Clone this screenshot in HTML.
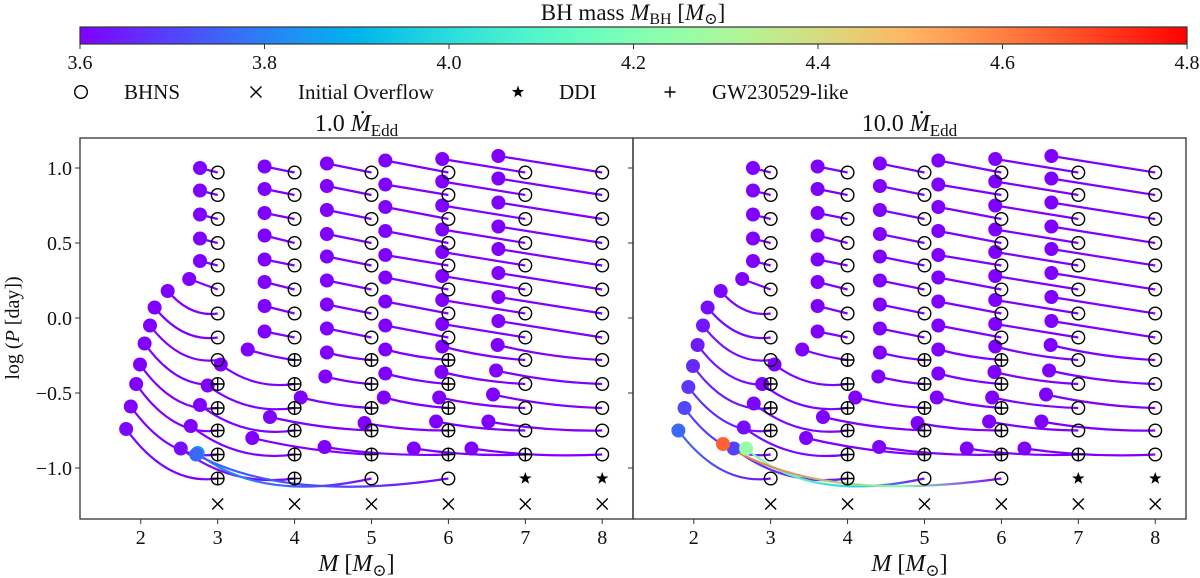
<!DOCTYPE html>
<html><head><meta charset="utf-8"><style>
html,body{margin:0;padding:0;background:#fff}
svg{display:block}
svg text{font-family:"Liberation Serif","DejaVu Serif",serif}
</style></head><body>
<svg id="fig" width="1200" height="578" viewBox="0 0 1200 578" xmlns="http://www.w3.org/2000/svg" font-family="Liberation Serif, DejaVu Serif, serif">
<defs id="defs"></defs>
<g id="cbar"></g>
<g id="legend"></g>
<g id="panelL"></g>
<g id="panelR"></g>
</svg>
<script>
// ---- data ----
const cols = [3,4,5,6,7,8];
const rowLogP = [0.97,0.82,0.66,0.50,0.35,0.19,0.03,-0.13,-0.28,-0.44,-0.60,-0.75,-0.91,-1.07];
const overflowLogP = -1.24;
const cbarTicks = [3.6,3.8,4.0,4.2,4.4,4.6,4.8];
const xTicks = [2,3,4,5,6,7,8];
const yTicks = [1.0,0.5,0.0,-0.5,-1.0];
const yTickLabels = ["1.0","0.5","0.0","\u22120.5","\u22121.0"];

// left panel (1.0 Mdot_Edd): end points per column (rows 0..13)
const endM_L = [
 [2.77,2.77,2.77,2.77,2.77,2.63,2.35,2.18,2.12,2.05,1.99,1.94,1.87,1.81],
 [3.61,3.61,3.61,3.61,3.61,3.61,3.61,3.61,3.39,3.04,2.87,2.77,2.65,2.52],
 [4.42,4.42,4.42,4.42,4.42,4.42,4.42,4.42,4.42,4.40,4.08,3.68,3.45,2.74],
 [5.18,5.18,5.18,5.18,5.18,5.18,5.18,5.18,5.18,5.18,5.16,4.91,4.39,2.72],
 [5.92,5.92,5.92,5.92,5.92,5.92,5.92,5.92,5.92,5.91,5.88,5.84,5.55,null],
 [6.65,6.65,6.65,6.65,6.65,6.65,6.65,6.65,6.64,6.62,6.58,6.52,6.30,null]];
const endP_L = [
 [1.00,0.85,0.69,0.53,0.38,0.26,0.18,0.07,-0.05,-0.17,-0.31,-0.44,-0.59,-0.74],
 [1.01,0.86,0.70,0.55,0.39,0.24,0.08,-0.09,-0.21,-0.31,-0.45,-0.58,-0.72,-0.87],
 [1.03,0.88,0.72,0.56,0.41,0.25,0.09,-0.07,-0.23,-0.39,-0.53,-0.66,-0.80,-0.90],
 [1.05,0.89,0.74,0.58,0.42,0.27,0.11,-0.05,-0.21,-0.37,-0.53,-0.70,-0.86,-0.91],
 [1.06,0.91,0.75,0.59,0.44,0.28,0.12,-0.04,-0.19,-0.36,-0.53,-0.69,-0.87,null],
 [1.08,0.93,0.77,0.61,0.46,0.30,0.14,-0.02,-0.18,-0.35,-0.51,-0.69,-0.87,null]];
const mass_L = [
 [3.6,3.6,3.6,3.6,3.6,3.6,3.6,3.6,3.6,3.6,3.6,3.6,3.6,3.61],
 [3.6,3.6,3.6,3.6,3.6,3.6,3.6,3.6,3.6,3.6,3.6,3.6,3.6,3.62],
 [3.6,3.6,3.6,3.6,3.6,3.6,3.6,3.6,3.6,3.6,3.6,3.6,3.6,3.84],
 [3.6,3.6,3.6,3.6,3.6,3.6,3.6,3.6,3.6,3.6,3.6,3.6,3.6,3.76],
 [3.6,3.6,3.6,3.6,3.6,3.6,3.6,3.6,3.6,3.6,3.6,3.6,3.6,null],
 [3.6,3.6,3.6,3.6,3.6,3.6,3.6,3.6,3.6,3.6,3.6,3.6,3.6,null]];
const gw_L = [[9,10,11,12,13],[8,9,10,11,12,13],[8,9,10,11,12],[8,9,10,11,12],[12],[]];
const ddi_L = [[],[],[],[],[13],[13]];

// right panel (10.0 Mdot_Edd)
const endM_R = [
 [2.77,2.77,2.77,2.77,2.77,2.63,2.35,2.18,2.12,2.05,1.99,1.93,1.88,1.80],
 [3.61,3.61,3.61,3.61,3.61,3.61,3.61,3.61,3.41,3.05,2.89,2.78,2.65,2.52],
 [4.42,4.42,4.42,4.42,4.42,4.42,4.42,4.42,4.42,4.40,4.10,3.68,3.46,2.68],
 [5.18,5.18,5.18,5.18,5.18,5.18,5.18,5.18,5.18,5.18,5.16,4.91,4.41,2.38],
 [5.92,5.92,5.92,5.92,5.92,5.92,5.92,5.92,5.92,5.91,5.88,5.84,5.55,null],
 [6.65,6.65,6.65,6.65,6.65,6.65,6.65,6.65,6.64,6.62,6.58,6.52,6.30,null]];
const endP_R = [
 [1.00,0.85,0.69,0.53,0.38,0.26,0.18,0.07,-0.05,-0.18,-0.32,-0.46,-0.60,-0.75],
 [1.01,0.86,0.70,0.55,0.39,0.24,0.08,-0.09,-0.21,-0.31,-0.44,-0.57,-0.73,-0.87],
 [1.03,0.88,0.72,0.56,0.41,0.25,0.09,-0.07,-0.23,-0.39,-0.53,-0.66,-0.80,-0.87],
 [1.05,0.89,0.74,0.58,0.42,0.27,0.11,-0.05,-0.21,-0.37,-0.53,-0.70,-0.86,-0.84],
 [1.06,0.91,0.75,0.59,0.44,0.28,0.12,-0.04,-0.19,-0.36,-0.53,-0.69,-0.87,null],
 [1.08,0.93,0.77,0.61,0.46,0.30,0.14,-0.02,-0.18,-0.35,-0.51,-0.69,-0.87,null]];
const mass_R = [
 [3.6,3.6,3.6,3.6,3.6,3.6,3.61,3.62,3.63,3.64,3.66,3.68,3.71,3.76],
 [3.6,3.6,3.6,3.6,3.6,3.6,3.6,3.6,3.6,3.6,3.6,3.61,3.62,3.7],
 [3.6,3.6,3.6,3.6,3.6,3.6,3.6,3.6,3.6,3.6,3.6,3.6,3.6,4.25],
 [3.6,3.6,3.6,3.6,3.6,3.6,3.6,3.6,3.6,3.6,3.6,3.6,3.6,4.65],
 [3.6,3.6,3.6,3.6,3.6,3.6,3.6,3.6,3.6,3.6,3.6,3.6,3.6,null],
 [3.6,3.6,3.6,3.6,3.6,3.6,3.6,3.6,3.6,3.6,3.6,3.6,3.6,null]];
const gw_R = [[9,10,11],[8,9,10,11,12,13],[8,9,10,11,12],[8,9,10,11,12],[12],[]];
const ddi_R = [[],[],[],[],[13],[13]];

// ---- helpers ----
const NS = "http://www.w3.org/2000/svg";
function mk(tag, attrs, parent){const e=document.createElementNS(NS,tag);for(const k in attrs)e.setAttribute(k,attrs[k]);if(parent)parent.appendChild(e);return e;}
function rainbow(v){let x=(v-3.6)/1.2;x=Math.max(0,Math.min(1,x));
 const r=Math.min(1,Math.abs(2*x-0.5)),g=Math.sin(Math.PI*x),b=Math.cos(Math.PI*x/2);
 const h=c=>Math.round(Math.max(0,Math.min(1,c))*255).toString(16).padStart(2,"0");return "#"+h(r)+h(g)+h(b);}
const defs=document.getElementById("defs");
const MMIN=1.21,MMAX=8.40,PMAX=1.2,PMIN=-1.34,TOP=138,BOT=519;
function yS(p){return TOP+(PMAX-p)/(PMAX-PMIN)*(BOT-TOP);}

// ---- colorbar ----
const cb=document.getElementById("cbar");
const CBL=80,CBR=1187,CBT=27,CBB=44;
const grad=mk("linearGradient",{id:"cbgrad",x1:"0",x2:"1",y1:"0",y2:"0"},defs);
for(let i=0;i<=20;i++){mk("stop",{offset:(i/20).toFixed(2),"stop-color":rainbow(3.6+1.2*i/20)},grad);}
const cbRect=mk("rect",{x:CBL,y:CBT,width:CBR-CBL,height:CBB-CBT,fill:"url(#cbgrad)",stroke:"#333","stroke-width":1.2},cb);


function cbX(v){return CBL+(v-3.6)/1.2*(CBR-CBL);}
cbarTicks.forEach(v=>{
 mk("line",{x1:cbX(v),x2:cbX(v),y1:CBB,y2:CBB+5,stroke:"#333","stroke-width":1},cb);
 const t=mk("text",{x:cbX(v),y:69,"text-anchor":"middle","font-size":20,fill:"#111"},cb);t.textContent=v.toFixed(1);
 
 
});
const cbt=mk("text",{x:633,y:20,"text-anchor":"middle","font-size":23,fill:"#111"},cb);


cbt.innerHTML='BH mass <tspan font-style="italic">M</tspan><tspan font-size="16" dy="4">BH</tspan><tspan dy="-4"> [</tspan><tspan font-style="italic">M</tspan><tspan font-size="16" dy="4">\u2299</tspan><tspan dy="-4">]</tspan>';

// ---- markers ----
function openCircle(g,x,y){const c=mk("circle",{cx:x,cy:y,r:6.3,fill:"none",stroke:"#000","stroke-width":1.4},g);return c;}
function plus(g,x,y,s){mk("path",{d:`M${x-s} ${y}H${x+s}M${x} ${y-s}V${y+s}`,stroke:"#000","stroke-width":1.4,fill:"none"},g);}
function cross(g,x,y){const s=5.5;return mk("path",{d:`M${x-s} ${y-s}L${x+s} ${y+s}M${x-s} ${y+s}L${x+s} ${y-s}`,stroke:"#000","stroke-width":1.4,fill:"none"},g);}
function star(g,x,y){let pts=[];for(let i=0;i<10;i++){const r=i%2?2.6:6.5,a=-Math.PI/2+i*Math.PI/5;pts.push((x+r*Math.cos(a)).toFixed(1)+","+(y+r*Math.sin(a)).toFixed(1));}
 return mk("polygon",{points:pts.join(" "),fill:"#000"},g);}

// ---- legend ----
const lg=document.getElementById("legend");
const LY=92;
const l1=openCircle(lg,81,LY);
const l2=cross(lg,256,LY);
const l3=star(lg,518,LY);
plus(lg,670,LY,5.5);
[["BHNS",124],["Initial Overflow",298],["DDI",559],["GW230529-like",712]].forEach(([s,x])=>{
 const t=mk("text",{x:x,y:LY+7,"font-size":21,fill:"#111"},lg);t.textContent=s;
 
 
});

// ---- panels ----
let gid=0;
function drawPanel(gEl,L,R,title,endM,endP,mass,gw,ddi,showYLabels){
 function xS(m){return L+(m-MMIN)/(MMAX-MMIN)*(R-L);}
 const tracks=mk("g",{},gEl);
 const ends=mk("g",{},gEl);
 const marks=mk("g",{},gEl);
 cols.forEach((mg,ci)=>{
  rowLogP.forEach((pg,ri)=>{
   const me=endM[ci][ri],pe=endP[ci][ri];
   const gx=xS(mg),gy=yS(pg);
   if(me!==null){
    const ex=xS(me),ey=yS(pe);
    const span=mg-me,slope=(pe-pg)/span;
    let d;
    const f=v=>v.toFixed(1);
    if(span>2){
     const c1m=mg-0.35*span,c2m=me+0.28*span,cp=pg-0.09;
     d=`M${f(gx)} ${f(gy)}C${f(xS(c1m))} ${f(yS(cp))} ${f(xS(c2m))} ${f(yS(cp))} ${f(ex)} ${f(ey)}`;
    } else {
     let cm,cp;
     if(span>0.5 && slope>0.12){cm=me+0.45*span;cp=pg-0.04*span;}
     else if(ri>=8 && span>0.5){cm=(me+mg)/2;cp=(pg+pe)/2-0.025*span;}
     else {cm=(me+mg)/2;cp=(pg+pe)/2;}
     d=`M${f(gx)} ${f(gy)}Q${f(xS(cm))} ${f(yS(cp))} ${f(ex)} ${f(ey)}`;
    }
    const col=rainbow(mass[ci][ri]);
    let stroke="#8000ff";
    if(mass[ci][ri]>3.605){
     const id="tg"+(gid++);
     const lgd=mk("linearGradient",{id:id,gradientUnits:"userSpaceOnUse",x1:gx,y1:gy,x2:ex,y2:ey},defs);
     mk("stop",{offset:"0","stop-color":"#8000ff"},lgd);
     mk("stop",{offset:"0.35","stop-color":rainbow(3.6+(mass[ci][ri]-3.6)*0.6)},lgd);
     mk("stop",{offset:"1","stop-color":col},lgd);
     stroke="url(#"+id+")";
    }
    const p=mk("path",{d:d,fill:"none",stroke:stroke,"stroke-width":2.2},tracks);
    
    
    const c=mk("circle",{cx:ex,cy:ey,r:7,fill:col},ends);
    
    
   }
   if(ddi[ci].includes(ri)){
    const s=star(marks,gx,gy);
    
    
   } else {
    const o=openCircle(marks,gx,gy);
    
    
    if(gw[ci].includes(ri)) plus(marks,gx,gy,6.3);
   }
  });
  const x=cross(marks,xS(mg),yS(overflowLogP));
  
  
 });
 const fr=mk("rect",{x:L,y:TOP,width:R-L,height:BOT-TOP,fill:"none",stroke:"#333","stroke-width":1.3},gEl);
 
 
 xTicks.forEach(v=>{
  mk("line",{x1:xS(v),x2:xS(v),y1:BOT,y2:BOT+5,stroke:"#333","stroke-width":1},gEl);
  const t=mk("text",{x:xS(v),y:544,"text-anchor":"middle","font-size":20,fill:"#111"},gEl);t.textContent=v;
  
  
 });
 yTicks.forEach((v,i)=>{
  mk("line",{x1:L-5,x2:L,y1:yS(v),y2:yS(v),stroke:"#333","stroke-width":1},gEl);
  if(showYLabels){const t=mk("text",{x:L-8,y:yS(v)+7,"text-anchor":"end","font-size":20,fill:"#111"},gEl);t.textContent=yTickLabels[i];
   
   }
 });
 const xl=mk("text",{x:(L+R)/2,y:571,"text-anchor":"middle","font-size":24,fill:"#111"},gEl);
 
 
 xl.innerHTML='<tspan font-style="italic">M</tspan> [<tspan font-style="italic">M</tspan><tspan font-size="17" dy="5">\u2299</tspan><tspan dy="-5">]</tspan>';
 const tt=mk("text",{x:(L+R)/2,y:131,"text-anchor":"middle","font-size":24,fill:"#111"},gEl);
 
 
 tt.innerHTML=title+' <tspan font-style="italic">\u1E40</tspan><tspan font-size="17" dy="5">Edd</tspan>';
}
drawPanel(document.getElementById("panelL"),80,633,"1.0",endM_L,endP_L,mass_L,gw_L,ddi_L,true);
drawPanel(document.getElementById("panelR"),633,1186,"10.0",endM_R,endP_R,mass_R,gw_R,ddi_R,false);
const yl=mk("text",{x:0,y:0,"text-anchor":"middle","font-size":20,fill:"#111",transform:"translate(19,328) rotate(-90)"},document.getElementById("fig"));


yl.innerHTML='log (<tspan font-style="italic">P</tspan> [day])';
</script>
</body></html>
